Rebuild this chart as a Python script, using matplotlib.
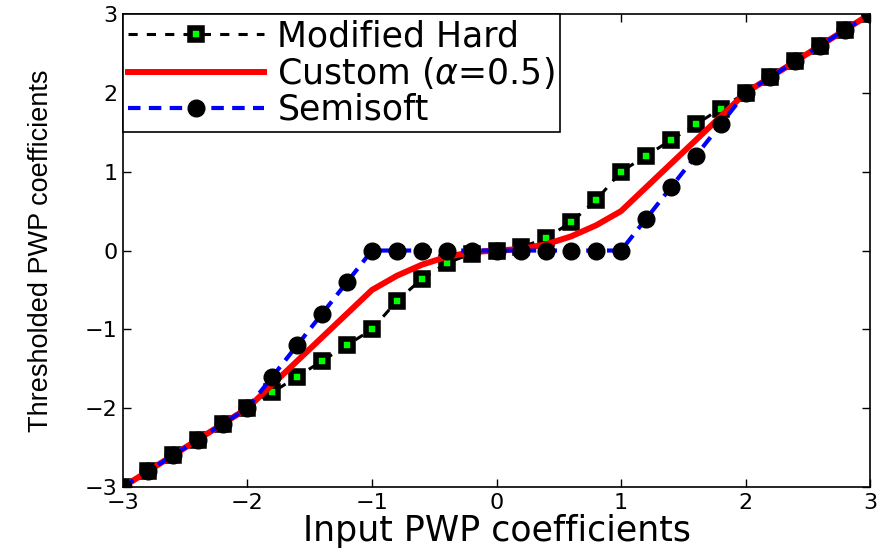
import matplotlib
matplotlib.use("Agg")
import matplotlib.pyplot as plt

plt.rcParams['font.family'] = ['DejaVu Sans']

# input coefficients, step 0.2
x_in = [-3.0, -2.8, -2.6, -2.4, -2.2, -2.0, -1.8, -1.6, -1.4, -1.2, -1.0,
        -0.8, -0.6, -0.4, -0.2, 0.0, 0.2, 0.4, 0.6, 0.8, 1.0,
        1.2, 1.4, 1.6, 1.8, 2.0, 2.2, 2.4, 2.6, 2.8, 3.0]

modified_hard = [-3.0, -2.8, -2.6, -2.4, -2.2, -2.0, -1.8, -1.6, -1.4, -1.2, -1.0,
                 -0.64, -0.36, -0.16, -0.04, 0.0, 0.04, 0.16, 0.36, 0.64, 1.0,
                 1.2, 1.4, 1.6, 1.8, 2.0, 2.2, 2.4, 2.6, 2.8, 3.0]

custom = [-3.0, -2.8, -2.6, -2.4, -2.2, -2.0, -1.7, -1.4, -1.1, -0.8, -0.5,
          -0.32, -0.18, -0.08, -0.02, 0.0, 0.02, 0.08, 0.18, 0.32, 0.5,
          0.8, 1.1, 1.4, 1.7, 2.0, 2.2, 2.4, 2.6, 2.8, 3.0]

semisoft = [-3.0, -2.8, -2.6, -2.4, -2.2, -2.0, -1.6, -1.2, -0.8, -0.4, 0.0,
            0.0, 0.0, 0.0, 0.0, 0.0, 0.0, 0.0, 0.0, 0.0, 0.0,
            0.4, 0.8, 1.2, 1.6, 2.0, 2.2, 2.4, 2.6, 2.8, 3.0]

ticks = [-3, -2, -1, 0, 1, 2, 3]
tick_labels = ['\u22123', '\u22122', '\u22121', '0', '1', '2', '3']

fig = plt.figure(figsize=(8.78, 5.5), dpi=100)
ax = fig.add_axes([0.140, 0.1145, 0.851, 0.860])

ax.plot(x_in, modified_hard, color='k', linestyle=(0, (3, 3)), linewidth=2.2,
        marker='s', markersize=8.2, markerfacecolor='#00ff00',
        markeredgecolor='k', markeredgewidth=4.0, label='Modified Hard')
ax.plot(x_in, custom, color='#ff0000', linestyle='-', linewidth=4.3,
        label=r'Custom ($\alpha$=0.5)')
ax.plot(x_in, semisoft, color='#0000ff', linestyle=(0, (3, 2)), linewidth=3.0,
        marker='o', markersize=12, markerfacecolor='k',
        markeredgecolor='k', markeredgewidth=1, label='Semisoft')

ax.set_xlim(-3, 3)
ax.set_ylim(-3, 3)
ax.set_xticks(ticks)
ax.set_yticks(ticks)
ax.set_xticklabels(tick_labels)
ax.set_yticklabels(tick_labels)
ax.tick_params(direction='in', length=6, width=1, top=True, right=True,
               labelsize=16, pad=4)
for sp in ax.spines.values():
    sp.set_linewidth(1.2)

ax.set_xlabel('Input PWP coefficients', fontsize=25, labelpad=1)
ax.set_ylabel('Thresholded PWP coefficients', fontsize=19.5, labelpad=22,
              family=['Liberation Sans', 'DejaVu Sans'])

leg = ax.legend(loc='upper left', fontsize=25, handlelength=3.9,
                fancybox=False, edgecolor='k', framealpha=1,
                borderaxespad=0.0, borderpad=0.15, labelspacing=0.05,
                handletextpad=0.4)
leg.get_frame().set_linewidth(1.2)

fig.savefig('out.png', dpi=100)
